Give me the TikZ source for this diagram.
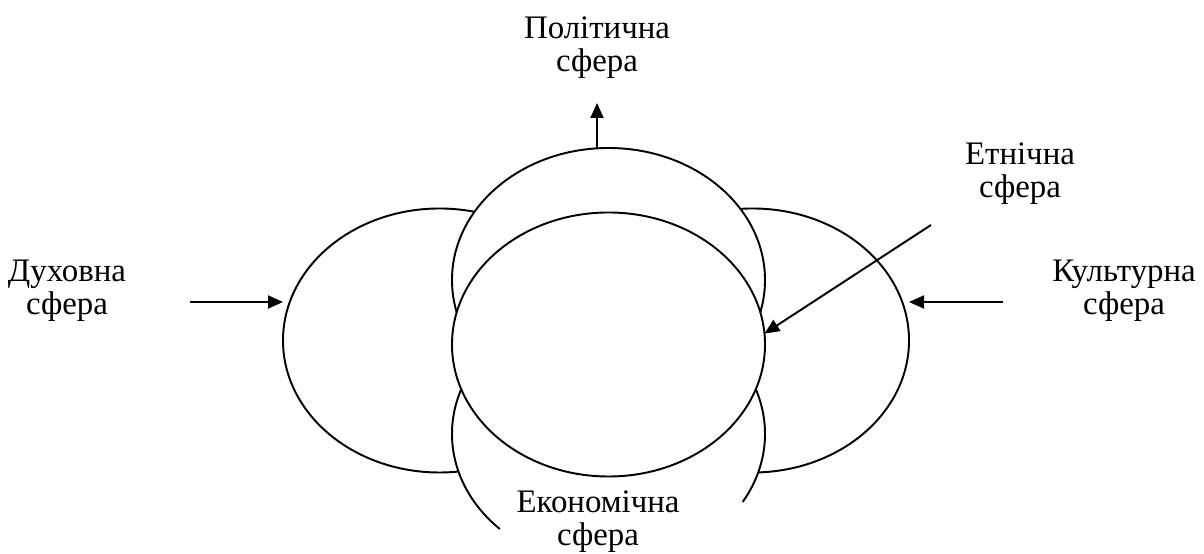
\documentclass[tikz,border=0pt]{standalone}
\usepackage{fontspec}
\setmainfont{Liberation Serif}
\usetikzlibrary{arrows.meta}
\usetikzlibrary{shapes.geometric}
\tikzset{>={Triangle[length=3mm,width=2.6mm]}}

\begin{document}
\begin{tikzpicture}[x=0.2mm,y=0.2mm,line width=1.1pt,
	sfera/.style={draw,fill=white,ellipse,inner sep=0pt,outer sep=0pt,minimum width=62.6mm,minimum height=52.8mm},
	napys/.style={align=center,font=\fontsize{18.7}{18.8}\selectfont}]
	\useasboundingbox (0,0) rectangle (1204,554);
	% сфери
	\node[sfera] (dukh) at (439.5,213.5) {};
	\node[sfera] (kult) at (752.5,213.5) {};
	\node[sfera] (polit) at (608.5,274) {};
	\node[sfera,draw=none] (ekon) at (608.5,120) {};
	\draw (ekon.north) arc[start angle=90,end angle=226,x radius=31.3mm,y radius=26.4mm];
	\draw (ekon.north) arc[start angle=90,end angle=-31,x radius=31.3mm,y radius=26.4mm];
	\node[sfera] (etn) at (608.5,209.5) {};
	% підписи
	\node[napys] (t polit) at (597,506) {Політична\\сфера};
	\node[napys] (t etn) at (1020,380) {Етнічна\\сфера};
	\node[napys] (t dukh) at (67,263) {Духовна\\сфера};
	\node[napys] (t kult) at (1124,263) {Культурна\\сфера};
	\node[napys] (t ekon) at (598,32) {Економічна\\сфера};
	% стрілки
	\coordinate (a dukh) at (190,252);
	\coordinate (a kult) at (1003,252);
	\coordinate (a polit) at (597,451);
	\coordinate (a etn) at (931,329);
	\draw[->] (a dukh) -- (a dukh -| dukh.west);
	\draw[->] (a kult) -- (a kult -| kult.east);
	\draw[->] (polit.95) -- (a polit);
	\draw[->] (a etn) -- (etn.4);
\end{tikzpicture}
\end{document}
